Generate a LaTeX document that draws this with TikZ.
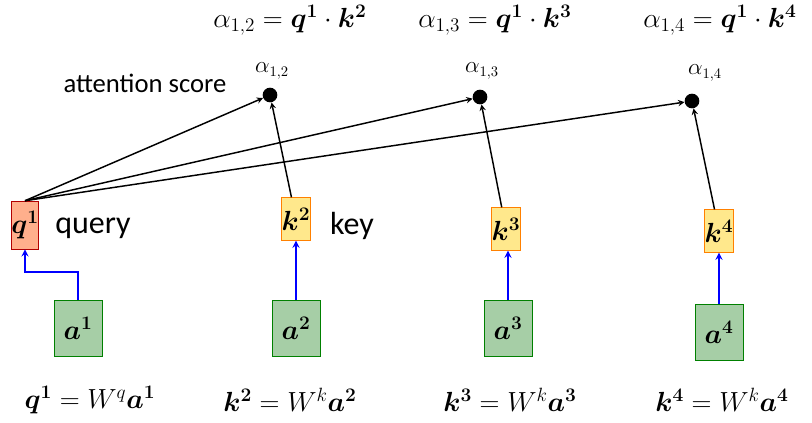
\documentclass[tikz,border=0pt]{standalone}
\usepackage{fontspec}
\usepackage{amsmath,bm}
\setmainfont{Carlito}
\begin{document}
\begin{tikzpicture}[x=0.75pt,y=-0.75pt,
 fA/.style={font=\fontsize{21}{24}\selectfont},
 fB/.style={font=\fontsize{24}{27}\selectfont},
 qbox/.style={draw=red!70!black,fill=orange!60!red!45,minimum width=19pt,minimum height=36pt,inner sep=0pt,font=\fontsize{21}{24}\selectfont},
 kbox/.style={draw=orange,fill=orange!40!yellow!45,minimum width=21pt,minimum height=32pt,inner sep=0pt,font=\fontsize{21}{24}\selectfont},
 abox/.style={draw=green!50!black,fill=green!45!black!35,minimum width=36pt,minimum height=42pt,inner sep=0pt,font=\fontsize{21}{24}\selectfont},
 dot/.style={circle,fill=black,minimum size=11pt,inner sep=0pt},
 blk/.style={->,>=stealth,line width=1.1pt},
 blu/.style={->,>=stealth,line width=1.4pt,blue}]
\useasboundingbox (0,0) rectangle (812,423);
\node[qbox] (q1) at (25,225) {$\bm{q^1}$};
\node[kbox] (k2) at (296,219) {$\bm{k^2}$};
\node[kbox] (k3) at (506,229) {$\bm{k^3}$};
\node[kbox] (k4) at (719,231) {$\bm{k^4}$};
\node[abox] (a1) at (78,328) {$\bm{a^1}$};
\node[abox] (a2) at (296,328) {$\bm{a^2}$};
\node[abox] (a3) at (508,328) {$\bm{a^3}$};
\node[abox] (a4) at (719,332) {$\bm{a^4}$};
\node[dot] (d2) at (270,95) {};
\node[dot] (d3) at (480,97) {};
\node[dot] (d4) at (692,101) {};
\node[font=\fontsize{16}{18}\selectfont] (l2) at (272,71) {$\alpha_{1,2}$};
\node[font=\fontsize{16}{18}\selectfont] (l3) at (482,71) {$\alpha_{1,3}$};
\node[font=\fontsize{16}{18}\selectfont] (l4) at (705,73) {$\alpha_{1,4}$};
\node[font=\fontsize{20}{22}\selectfont] (att) at (145,83) {attention score};
\node[fB] (qry) at (93,228) {query};
\node[fB] (key) at (352,226) {key};
\node[fA] (t2) at (290,20) {$\alpha_{1,2}=\bm{q^1}\cdot\bm{k^2}$};
\node[fA] (t3) at (495,20) {$\alpha_{1,3}=\bm{q^1}\cdot\bm{k^3}$};
\node[fA] (t4) at (720,20) {$\alpha_{1,4}=\bm{q^1}\cdot\bm{k^4}$};
\node[fA] (f1) at (90,400) {$\bm{q^1}=W^q\bm{a^1}$};
\node[fA] (f2) at (290,400) {$\bm{k^2}=W^k\bm{a^2}$};
\node[fA] (f3) at (510,400) {$\bm{k^3}=W^k\bm{a^3}$};
\node[fA] (f4) at (722,400) {$\bm{k^4}=W^k\bm{a^4}$};
\draw[blu] (a1.north) |- (25,272) -- (q1.south);
\draw[blu] (a2) -- (k2);
\draw[blu] (a3.north) -- (k3.south -| a3.north);
\draw[blu] (a4) -- (k4);
\draw[blk] (q1.north) -- (d2);
\draw[blk] (q1.north) -- (d3);
\draw[blk] (q1.north) -- (d4);
\draw[blk] (k2) -- (d2);
\draw[blk] (k3) -- (d3);
\draw[blk] (k4) -- (d4);
\end{tikzpicture}
\end{document}
